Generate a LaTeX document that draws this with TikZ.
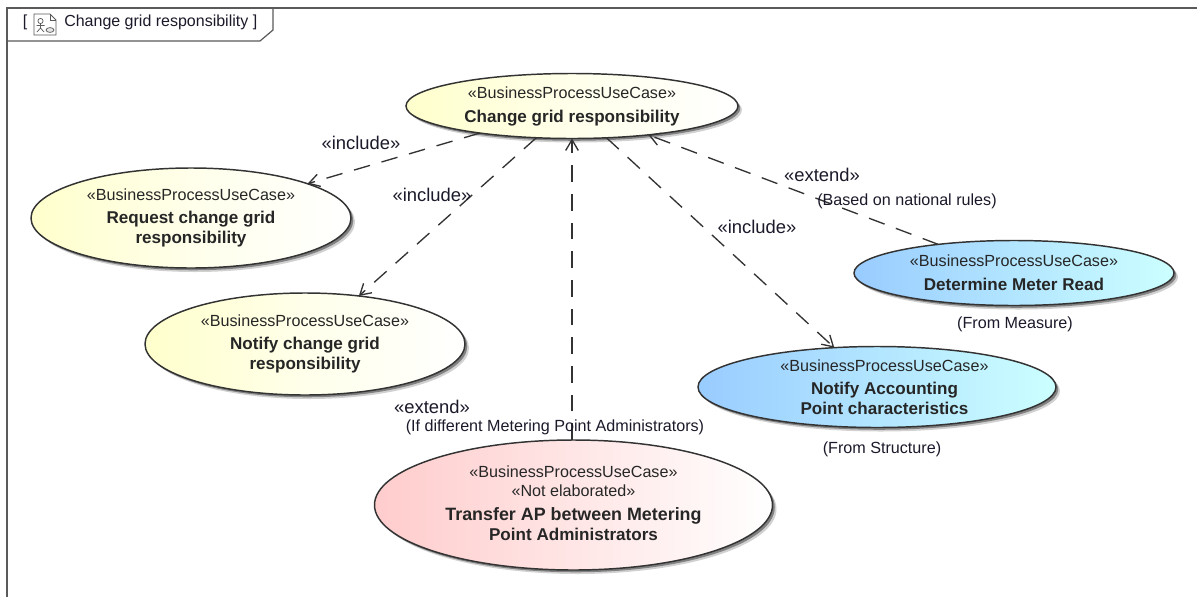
\documentclass[tikz,border=0pt]{standalone}
\usepackage{fontspec}
\setmainfont{Liberation Sans}
\usetikzlibrary{shapes.geometric,arrows.meta,shadows}
\definecolor{inkline}{HTML}{333333}
\definecolor{framegray}{HTML}{5A5A5A}
\definecolor{labelink}{HTML}{1A1A2A}
\definecolor{blue1}{HTML}{99CCFF}
\definecolor{blue2}{HTML}{CCFFFF}
\definecolor{pink1}{HTML}{FFCCCC}
\tikzset{
  uc/.style={ellipse,draw=inkline,line width=1.1pt,inner sep=0pt,outer sep=0pt,align=center,
    font=\fontsize{12.1pt}{15pt}\selectfont,text=black!85,
    preaction={fill=black,opacity=.18,transform canvas={shift={(3pt,-3pt)}}},
    preaction={fill=black,opacity=.38,transform canvas={shift={(1.7pt,-1.7pt)}}}},
  yuc/.style={uc,left color=yellow!20,right color=white,middle color=yellow!8},
  buc/.style={uc,left color=blue1,right color=blue2},
  puc/.style={uc,left color=pink1,right color=white},
  rel/.style={draw=inkline,line width=1pt,dash pattern=on 12.5pt off 9pt,-{Straight Barb[length=8pt,width=9.5pt,line width=1pt]}},
  biglabel/.style={inner sep=0pt,text=labelink,font=\fontsize{13.8pt}{16pt}\selectfont},
  smalllabel/.style={inner sep=0pt,text=labelink,font=\fontsize{12.1pt}{15pt}\selectfont},
  titlelabel/.style={inner sep=0pt,text=labelink,font=\fontsize{12pt}{15pt}\selectfont},
  icon/.style={draw=framegray,line width=.55pt}
}
\newcommand{\st}{«BusinessProcessUseCase»}
\newcommand{\nm}[1]{{\fontsize{12.8pt}{15pt}\selectfont\bfseries #1}}
\newcommand{\nmw}[1]{{\fontsize{13.4pt}{15pt}\selectfont\bfseries #1}}
\newcommand{\sh}{\hspace*{11.25pt}}
\begin{document}
\begin{tikzpicture}[x=.75pt,y=-.75pt]
\useasboundingbox (0,0) rectangle (1197,597);
\fill[white] (0,0) rectangle (1197,597);
% frame
\draw[framegray,line width=.9pt] (1197,8) -- (7,8) -- (7,597);
\draw[framegray,line width=.9pt] (273,8) -- (273,30) -- (260,41) -- (7,41);
\node[titlelabel] (lbr) at (25,22) {[};
\node[titlelabel] (rbr) at (255,22) {]};
\node[titlelabel,anchor=west] (title) at (64,22) {Change grid responsibility};
% icon
\draw[icon] (34,14) -- (50,14) -- (56,20) -- (56,35) -- (34,35) -- cycle;
\draw[icon] (50,14) -- (50,20) -- (56,20);
\draw[icon] (40.5,21) circle (2.6);
\draw[icon] (40.5,23.6) -- (40.5,28) (36.5,25.5) -- (44.5,25.5) (40.5,28) -- (37,32) (40.5,28) -- (44,32);
\draw[icon,fill=black!10] (50,30) ellipse (4 and 2.4);
% use cases
\node[yuc,minimum width=249pt,minimum height=48.75pt] (change) at (572,106) {\st\\[3pt]\nm{Change grid responsibility}};
\node[yuc,minimum width=240pt,minimum height=75pt] (request) at (191,218) {\st\\[2.5pt]\nm{Request change grid\hspace*{6pt}}\\\nm{responsibility}};
\node[yuc,minimum width=240pt,minimum height=76.5pt] (notify) at (305,344) {\st\\[2.5pt]\nm{Notify change grid\hspace*{3pt}}\\\nm{responsibility}\\[-12pt]\mbox{}};
\node[buc,minimum width=240pt,minimum height=48.75pt] (meter) at (1014,273) {\st\\[3pt]\nm{Determine Meter Read}};
\node[buc,minimum width=268.5pt,minimum height=60.75pt] (account) at (877,387) {\sh\st\\[2.5pt]\sh\nm{Notify Accounting}\\\sh\nm{Point characteristics}};
\node[puc,minimum width=298.5pt,minimum height=97.5pt] (transfer) at (573.5,505) {\st\\[-.5pt]«Not elaborated»\\[2.5pt]\nmw{Transfer AP between Metering}\\\nm{Point Administrators}\\[-12pt]\mbox{}};
% connectors
\draw[rel] (change) -- (request);
\draw[rel] (change) -- (notify);
\draw[rel] (change) -- (account);
\draw[rel] (change |- transfer.north) -- (change);
\draw[rel] (meter) -- (change);
% labels
\node[biglabel] (l1) at (361,143) {«include»};
\node[biglabel] (l2) at (432,195) {«include»};
\node[biglabel] (l3) at (757,227) {«include»};
\node[biglabel] (l4) at (822,175) {«extend»};
\node[biglabel] (l5) at (432,407) {«extend»};
\node[smalllabel] (c1) at (907,201) {(Based on national rules)};
\node[smalllabel] (c2) at (555,427) {(If different Metering Point Administrators)};
\node[smalllabel] (c3) at (1015,324) {(From Measure)};
\node[smalllabel] (c4) at (882,449) {(From Structure)};
\end{tikzpicture}
\end{document}
